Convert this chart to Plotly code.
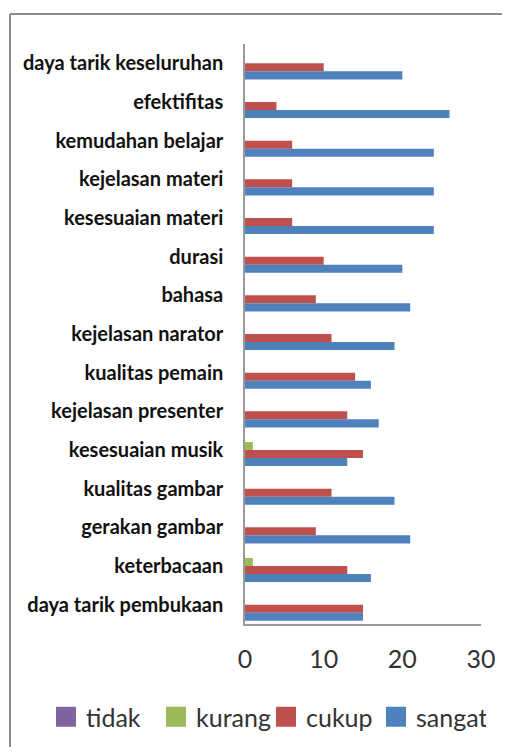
import plotly.graph_objects as go

categories = [
    "daya tarik keseluruhan", "efektifitas", "kemudahan belajar",
    "kejelasan materi", "kesesuaian materi", "durasi", "bahasa",
    "kejelasan narator", "kualitas pemain", "kejelasan presenter",
    "kesesuaian musik", "kualitas gambar", "gerakan gambar",
    "keterbacaan", "daya tarik pembukaan",
]
tidak = [0, 0, 0, 0, 0, 0, 0, 0, 0, 0, 0, 0, 0, 0, 0]
kurang = [0, 0, 0, 0, 0, 0, 0, 0, 0, 0, 1, 0, 0, 1, 0]
cukup = [10, 4, 6, 6, 6, 10, 9, 11, 14, 13, 15, 11, 9, 13, 15]
sangat = [20, 26, 24, 24, 24, 20, 21, 19, 16, 17, 13, 19, 21, 16, 15]
x_ticks = [0, 10, 20, 30]

series = [
    ("tidak", tidak, "#8064A2"),
    ("kurang", kurang, "#9BBB59"),
    ("cukup", cukup, "#C0504D"),
    ("sangat", sangat, "#4F81BD"),
]

fig = go.Figure()
for name, vals, col in series:
    fig.add_trace(go.Bar(
        y=categories, x=vals, name=name, orientation="h", legendgroup=name,
        showlegend=False,
        marker=dict(color=col, line=dict(width=0)),
    ))
for name, vals, col in series:
    fig.add_trace(go.Scatter(
        x=[None], y=[None], mode="markers", name=name, legendgroup=name,
        marker=dict(symbol="square", size=16, color=col, line=dict(color=col, width=4)),
    ))

# page body adds an 8px margin; figure coords = screen - 8
W, H = 502, 739
ml, mr, mt, mb = 237, 29, 36, 123
pw = W - ml - mr
ph = H - mt - mb

def px_x(p):
    return (p - ml) / pw

def px_y(p):
    return (H - mb - p) / ph

fig.update_layout(
    width=W, height=H,
    margin=dict(l=ml, r=mr, t=mt, b=mb, pad=0, autoexpand=False),
    paper_bgcolor="white", plot_bgcolor="white",
    barmode="group", bargap=0.17, bargroupgap=0,
    font=dict(family="Lato, Open Sans, sans-serif", color="#222"),
    showlegend=True,
    legend=dict(
        orientation="h", x=px_x(38), y=px_y(709), xanchor="left", yanchor="middle",
        font=dict(size=25, family="Lato, Open Sans, sans-serif", color="#333"),
        itemwidth=30, entrywidth=65, tracegroupgap=0, bgcolor="rgba(0,0,0,0)",
    ),
    xaxis=dict(
        range=[0, 30], tickvals=x_ticks, showgrid=False, zeroline=False,
        showline=True, linecolor="#9a9a9a", linewidth=1.5,
        ticks="", ticklabelstandoff=12,
        tickfont=dict(size=25, family="Lato, Open Sans, sans-serif", color="#333"),
    ),
    yaxis=dict(
        autorange="reversed", showgrid=False, zeroline=False,
        showline=True, linecolor="#9a9a9a", linewidth=1.5,
        ticks="", ticklabelstandoff=16,
        tickfont=dict(size=20, family="Lato, Open Sans, sans-serif", color="#111", weight="bold"),
    ),
    shapes=[
        dict(type="line", xref="paper", yref="paper",
             x0=px_x(2), x1=px_x(W), y0=px_y(6), y1=px_y(6),
             line=dict(color="#8a8a8a", width=2)),
        dict(type="line", xref="paper", yref="paper",
             x0=px_x(2), x1=px_x(2), y0=px_y(6), y1=px_y(H),
             line=dict(color="#8a8a8a", width=2)),
    ],
)

fig.write_html("out.html", config={"displayModeBar": False})
